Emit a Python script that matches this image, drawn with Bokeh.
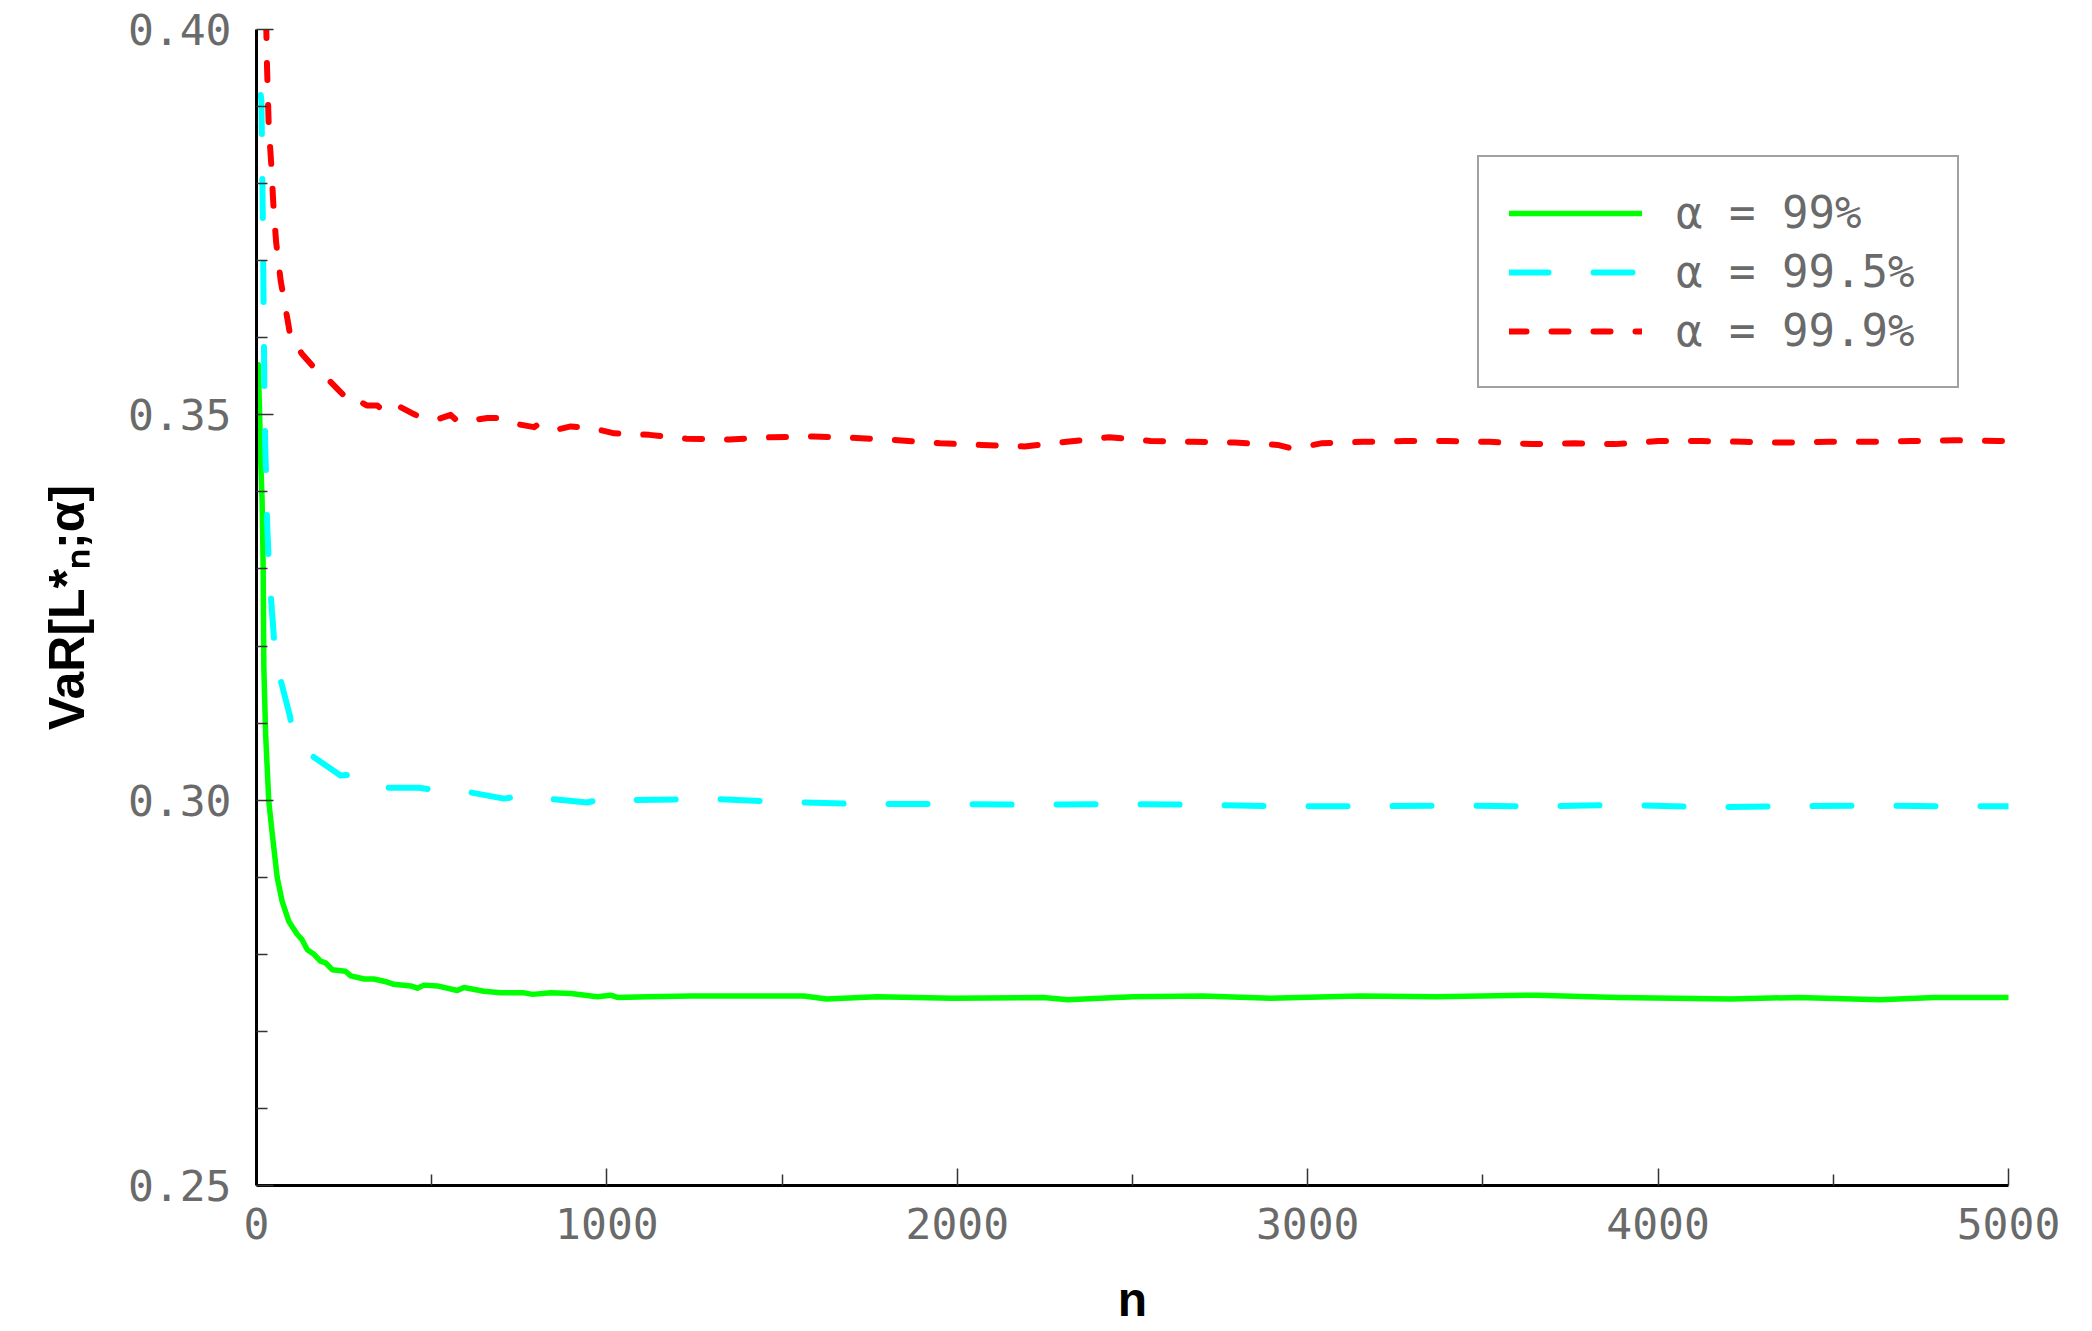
from bokeh.plotting import figure
from bokeh.models import Legend, LegendItem, FixedTicker, NumeralTickFormatter, Range1d
from bokeh.embed import file_html
from bokeh.resources import INLINE

# ---- data ----
green_n = [5, 9, 12, 16, 19, 21, 26, 35, 45, 59, 73, 92, 116, 130, 145, 164, 183, 197, 216, 254,
           269, 307, 335, 373, 392, 440, 459, 478, 516, 573, 592, 649, 697, 764, 788, 840, 897,
           973, 1011, 1030, 1116, 1240, 1400, 1562, 1627, 1771, 1988, 2246, 2315, 2502, 2700,
           2895, 2976, 3147, 3367, 3652, 3884, 4207, 4400, 4634, 4789, 5000]
green_v = [0.3565, 0.3500, 0.3440, 0.3389, 0.3302, 0.3172, 0.3086, 0.2999, 0.2956, 0.2900,
           0.2869, 0.2843, 0.2826, 0.2819, 0.2806, 0.2800, 0.2791, 0.2789, 0.2780, 0.2778,
           0.2772, 0.2768, 0.2768, 0.2764, 0.2761, 0.2759, 0.2756, 0.2760, 0.2759, 0.2753,
           0.2757, 0.2752, 0.2750, 0.2750, 0.2748, 0.2750, 0.2749, 0.2745, 0.2747, 0.2744,
           0.2745, 0.2746, 0.2746, 0.2746, 0.2742, 0.2745, 0.2743, 0.2744, 0.2741, 0.2745,
           0.2746, 0.2743, 0.2744, 0.2746, 0.2745, 0.2747, 0.2744, 0.2742, 0.2744, 0.2741,
           0.2744, 0.2744]

cyan_n = [12, 14, 16, 18, 19, 20, 21, 22, 23, 25, 28, 30, 35, 42, 50, 67, 95, 102, 124, 150,
          240, 264, 289, 308, 345, 463, 497, 535, 564, 588, 706, 764, 797, 826, 944, 982, 1011,
          1068, 1202, 1279, 1486, 1724, 1971, 2209, 2448, 2688, 2927, 3171, 3412, 3652, 3890,
          4132, 4375, 4615, 4854, 5000]
cyan_v = [0.3915, 0.3908, 0.3833, 0.3757, 0.3709, 0.3657, 0.3607, 0.3558, 0.3510, 0.3458,
          0.3410, 0.3363, 0.3309, 0.3259, 0.3209, 0.3159, 0.3110, 0.3092, 0.3081, 0.3060,
          0.3032, 0.3033, 0.3026, 0.3021, 0.3016, 0.3016, 0.3014, 0.3009, 0.3009, 0.3012,
          0.3002, 0.3006, 0.3000, 0.3002, 0.2997, 0.3001, 0.2997, 0.3000, 0.3001, 0.3002,
          0.2998, 0.2995, 0.2995, 0.2994, 0.2995, 0.2994, 0.2992, 0.2992, 0.2993, 0.2992,
          0.2994, 0.2991, 0.2992, 0.2993, 0.2992, 0.2992]

red_n = [20, 28, 30, 35, 42, 48, 56, 69, 88, 97, 130, 159, 188, 202, 230, 259, 268, 316, 345,
         368, 411, 449, 468, 516, 554, 573, 630, 659, 687, 744, 792, 802, 849, 897, 964, 1021,
         1078, 1121, 1227, 1350, 1470, 1590, 1712, 1831, 1951, 2069, 2192, 2312, 2433, 2552,
         2674, 2791, 2914, 2950, 3005, 3038, 3157, 3277, 3399, 3519, 3639, 3761, 3878, 4001,
         4124, 4244, 4365, 4486, 4606, 4724, 4847, 4969, 5000]
red_v = [0.4120, 0.4000, 0.3952, 0.3874, 0.3826, 0.3774, 0.3724, 0.3674, 0.3625, 0.3601,
         0.3579, 0.3564, 0.3553, 0.3547, 0.3534, 0.3521, 0.3524, 0.3512, 0.3512, 0.3503,
         0.3510, 0.3501, 0.3497, 0.3494, 0.3500, 0.3492, 0.3494, 0.3496, 0.3496, 0.3488,
         0.3484, 0.3487, 0.3480, 0.3485, 0.3482, 0.3476, 0.3475, 0.3474, 0.3469, 0.3468,
         0.3471, 0.3472, 0.3470, 0.3467, 0.3463, 0.3461, 0.3459, 0.3465, 0.3471, 0.3466,
         0.3465, 0.3464, 0.3461, 0.3457, 0.3460, 0.3463, 0.3465, 0.3466, 0.3466, 0.3465,
         0.3462, 0.3463, 0.3462, 0.3466, 0.3466, 0.3465, 0.3464, 0.3465, 0.3465, 0.3466,
         0.3467, 0.3466, 0.3466]

legend_labels = ["α = 99%", "α = 99.5%", "α = 99.9%"]
x_title = "n"
y_title = "VaR[L*ₙ;α]"
x_ticks = [0, 1000, 2000, 3000, 4000, 5000]
x_minor = [500, 1500, 2500, 3500, 4500]
y_ticks = [0.25, 0.30, 0.35, 0.40]
y_minor = [0.26, 0.27, 0.28, 0.29, 0.31, 0.32, 0.33, 0.34, 0.36, 0.37, 0.38, 0.39]

# ---- figure ----
p = figure(width=2092, height=1331, output_backend="svg", toolbar_location=None,
           x_range=Range1d(0, 5000), y_range=Range1d(0.25, 0.40),
           min_border_left=256, min_border_right=84, min_border_top=29, min_border_bottom=146)
p.outline_line_color = None
p.xgrid.visible = False
p.ygrid.visible = False
p.background_fill_color = "white"
p.border_fill_color = "white"

r_green = p.line(green_n, green_v, line_color="#00ff00", line_width=5.5,
                 line_cap="round", line_join="round")
r_cyan = p.line(cyan_n, cyan_v, line_color="#00ffff", line_width=6, line_dash="39 45",
                line_cap="round", line_join="round")
r_red = p.line(red_n, red_v, line_color="#ff0000", line_width=6, line_dash="17 25",
               line_cap="round", line_join="round")

p.xaxis.ticker = FixedTicker(ticks=x_ticks, minor_ticks=x_minor)
p.yaxis.ticker = FixedTicker(ticks=y_ticks, minor_ticks=y_minor)
p.yaxis.formatter = NumeralTickFormatter(format="0.00")

for ax in (p.xaxis[0], p.yaxis[0]):
    ax.axis_line_color = "black"
    ax.axis_line_width = 3
    ax.major_tick_in = 17
    ax.major_tick_out = 0
    ax.minor_tick_in = 11
    ax.minor_tick_out = 0
    ax.major_tick_line_color = "#333333"
    ax.major_tick_line_width = 1.5
    ax.minor_tick_line_color = "#333333"
    ax.minor_tick_line_width = 1.5
    ax.major_label_text_font = "DejaVu Sans Mono"
    ax.major_label_text_font_size = "43px"
    ax.major_label_text_color = "#6a6a6a"
    ax.axis_label_text_font = "Liberation Sans"
    ax.axis_label_text_font_style = "bold"
    ax.axis_label_text_color = "black"

p.yaxis.axis_label_text_font_size = "50px"
p.xaxis.axis_label_text_font_size = "48px"
p.xaxis.major_label_standoff = 22
p.yaxis.major_label_standoff = 25
p.xaxis.axis_label = x_title
p.yaxis.axis_label = y_title
p.xaxis.axis_label_standoff = 31
p.yaxis.axis_label_standoff = 30

legend = Legend(items=[LegendItem(label=legend_labels[0], renderers=[r_green]),
                       LegendItem(label=legend_labels[1], renderers=[r_cyan]),
                       LegendItem(label=legend_labels[2], renderers=[r_red])],
                location=(1221, 797), orientation="vertical",
                padding=30, spacing=8, label_standoff=34, margin=0,
                glyph_width=133, glyph_height=48, label_height=48, label_width=251,
                border_line_color="#444444", border_line_width=2,
                background_fill_color="white", background_fill_alpha=1.0,
                label_text_font="DejaVu Sans Mono", label_text_font_size="44px",
                label_text_color="#6a6a6a")
p.add_layout(legend, "center")

open("out.html", "w").write(file_html(p, INLINE))
